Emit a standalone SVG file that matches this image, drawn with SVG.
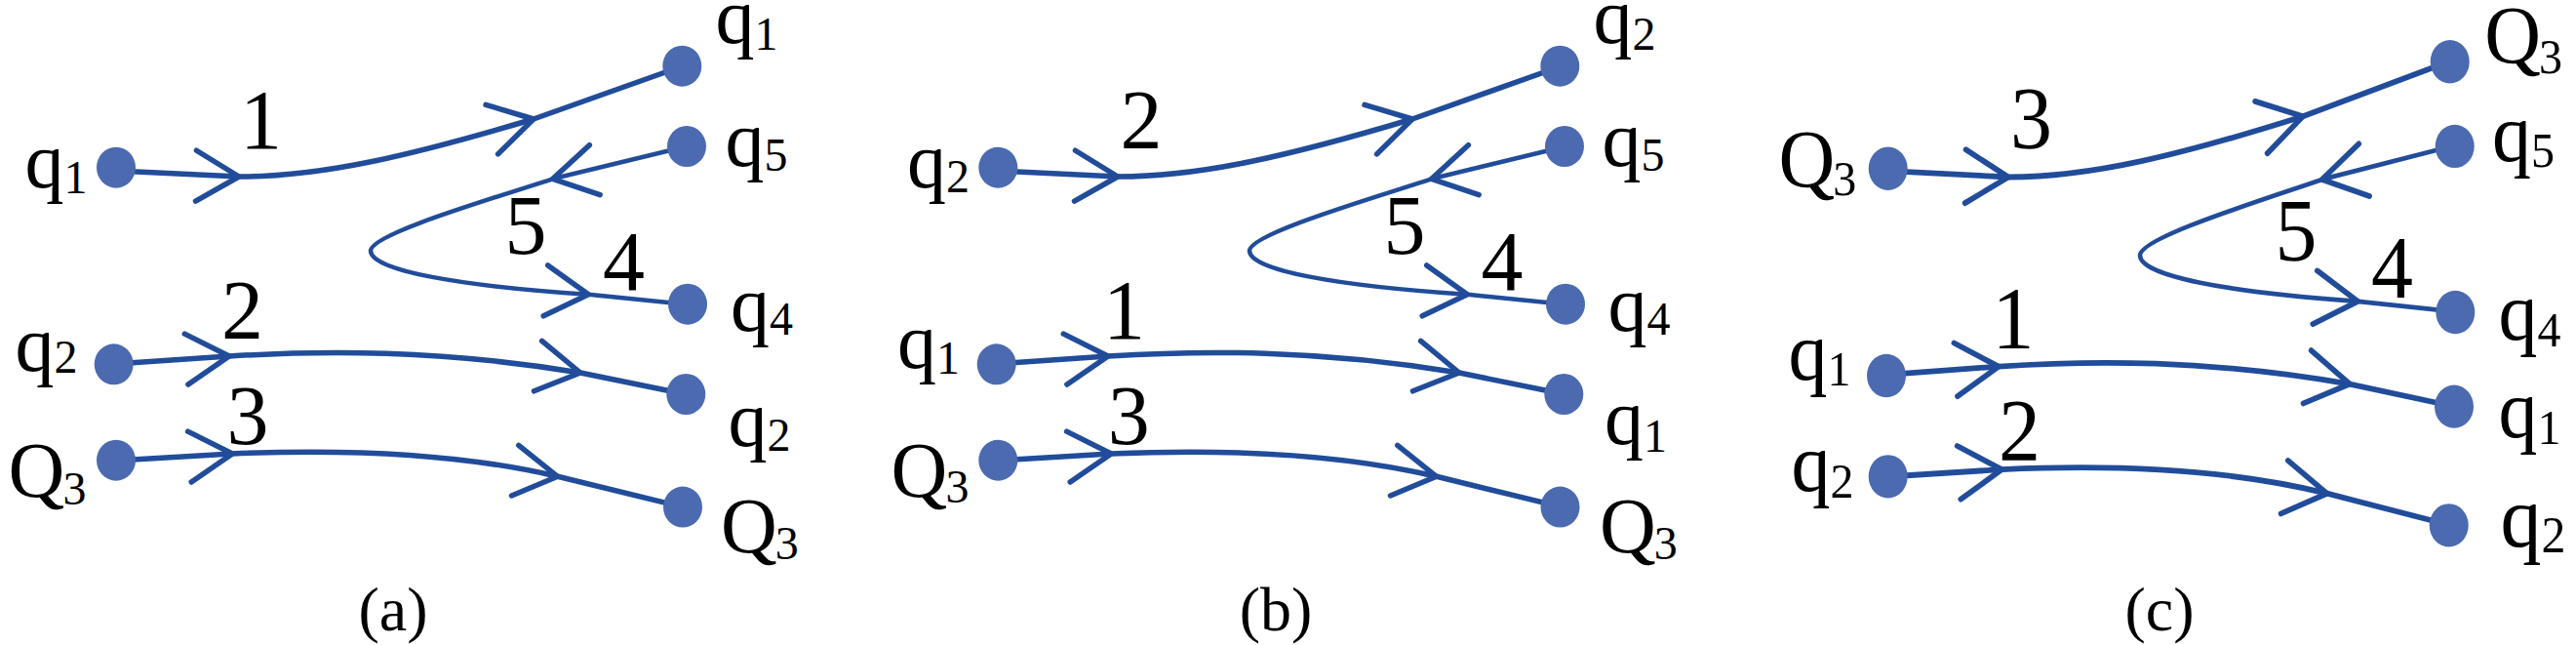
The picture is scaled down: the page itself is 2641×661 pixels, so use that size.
<svg xmlns="http://www.w3.org/2000/svg" xmlns:xlink="http://www.w3.org/1999/xlink" width="2641" height="661" viewBox="0 0 2641 661">
<style>
.dot{fill:#4B6AB0}
.lbl{font-family:"Liberation Serif","Times New Roman",serif;font-size:80px;fill:#000}
.sub{font-size:48px}
.num{font-family:"Liberation Serif","Times New Roman",serif;font-size:86px;fill:#000;text-anchor:middle}
.cap{font-family:"Liberation Serif","Times New Roman",serif;font-size:64px;fill:#000;text-anchor:middle}
</style>
<defs>
<path id="chev" d="M-44,-26 L0,0 L-44,26"/>
</defs>
<rect width="2641" height="661" fill="#fff"/>

<!-- ============ PANEL (a) ============ -->
<g id="panel-a">
  <g id="a-connectors" fill="none" stroke="#214C9A" stroke-width="5.5" stroke-linecap="round" stroke-linejoin="round">
    <path d="M119,175 L245,181 C330,181 420,160 547,122 L699,68"/>
    <path d="M704,150 L566.7,183.3 C500,205 380,240 380,257 C380,277 470,293 603.3,301.7 L705,312" stroke-width="4.5"/>
    <path d="M117,373 L235,365 C330,359 450,358 595,382 L703,404"/>
    <path d="M119,472 L238,465 C330,461 460,462 571.7,488.3 L700,519.6"/>
    <use xlink:href="#chev" transform="translate(245,181) rotate(1)"/>
    <use xlink:href="#chev" transform="translate(547,122) rotate(-14)"/>
    <use xlink:href="#chev" transform="translate(566.7,183.3) rotate(168)"/>
    <use xlink:href="#chev" transform="translate(603.3,301.7) rotate(5)"/>
    <use xlink:href="#chev" transform="translate(235,365) rotate(-4)"/>
    <use xlink:href="#chev" transform="translate(595,382) rotate(9)"/>
    <use xlink:href="#chev" transform="translate(238.3,465) rotate(-4)"/>
    <use xlink:href="#chev" transform="translate(571.7,488.3) rotate(8)"/>
  </g>
  <g id="a-edge-labels">
    <text class="num" x="267.5" y="152">1</text>
    <text class="num" x="248.5" y="347">2</text>
    <text class="num" x="254" y="455">3</text>
    <text class="num" x="539" y="260">5</text>
    <text class="num" x="639.5" y="296.7">4</text>
  </g>
  <g id="a-src-q1"><ellipse class="dot" cx="119" cy="171.7" rx="20" ry="21"/><text class="lbl" x="25.4" y="192">q<tspan class="sub" dy="6">1</tspan></text></g>
  <g id="a-src-q2"><ellipse class="dot" cx="116.7" cy="373.3" rx="20" ry="21"/><text class="lbl" x="15.4" y="380">q<tspan class="sub" dy="2">2</tspan></text></g>
  <g id="a-src-Q3"><ellipse class="dot" cx="119" cy="471.7" rx="20" ry="21"/><text class="lbl" x="8.6" y="509">Q<tspan class="sub" dx="-2" dy="8">3</tspan></text></g>
  <g id="a-dst-q1"><ellipse class="dot" cx="699.3" cy="67.7" rx="20" ry="21"/><text class="lbl" x="733.4" y="44">q<tspan class="sub" dy="7">1</tspan></text></g>
  <g id="a-dst-q5"><ellipse class="dot" cx="704" cy="150" rx="20" ry="21"/><text class="lbl" x="743.4" y="170">q<tspan class="sub" dy="5">5</tspan></text></g>
  <g id="a-dst-q4"><ellipse class="dot" cx="705" cy="311.7" rx="20" ry="21"/><text class="lbl" x="749" y="339">q<tspan class="sub" dy="4">4</tspan></text></g>
  <g id="a-dst-q2"><ellipse class="dot" cx="703.3" cy="404" rx="20" ry="21"/><text class="lbl" x="746.4" y="457">q<tspan class="sub" dy="5">2</tspan></text></g>
  <g id="a-dst-Q3"><ellipse class="dot" cx="700" cy="519.6" rx="20" ry="21"/><text class="lbl" x="739" y="566">Q<tspan class="sub" dx="-2" dy="7">3</tspan></text></g>
</g>
<text id="cap-a" class="cap" x="403" y="646">(a)</text>

<!-- ============ PANEL (b) ============ -->
<g id="panel-b" transform="translate(901,0)">
  <g id="b-connectors" fill="none" stroke="#214C9A" stroke-width="5.5" stroke-linecap="round" stroke-linejoin="round">
    <path d="M121,175 L245,181 C330,181 420,160 547,122 L699,68"/>
    <path d="M704,150 L566.7,183.3 C500,205 380,240 380,257 C380,277 470,293 603.3,301.7 L705,312" stroke-width="4.5"/>
    <path d="M119,373 L235,365 C330,359 450,358 595,382 L703,404"/>
    <path d="M121,472 L238,465 C330,461 460,462 571.7,488.3 L700,519.6"/>
    <use xlink:href="#chev" transform="translate(245,181) rotate(1)"/>
    <use xlink:href="#chev" transform="translate(547,122) rotate(-14)"/>
    <use xlink:href="#chev" transform="translate(566.7,183.3) rotate(168)"/>
    <use xlink:href="#chev" transform="translate(603.3,301.7) rotate(5)"/>
    <use xlink:href="#chev" transform="translate(235,365) rotate(-4)"/>
    <use xlink:href="#chev" transform="translate(595,382) rotate(9)"/>
    <use xlink:href="#chev" transform="translate(238.3,465) rotate(-4)"/>
    <use xlink:href="#chev" transform="translate(571.7,488.3) rotate(8)"/>
  </g>
  <g id="b-edge-labels">
    <text class="num" x="269" y="152">2</text>
    <text class="num" x="251.5" y="346.7">1</text>
    <text class="num" x="256.3" y="455">3</text>
    <text class="num" x="539" y="260">5</text>
    <text class="num" x="639" y="296.7">4</text>
  </g>
  <g id="b-src-q2"><ellipse class="dot" cx="122.3" cy="171.7" rx="20" ry="21"/><text class="lbl" x="29.1" y="191.7">q<tspan class="sub" dy="5">2</tspan></text></g>
  <g id="b-src-q1"><ellipse class="dot" cx="120.7" cy="373.3" rx="20" ry="21"/><text class="lbl" x="19.1" y="377">q<tspan class="sub" dy="6">1</tspan></text></g>
  <g id="b-src-Q3"><ellipse class="dot" cx="122.3" cy="471.7" rx="20" ry="21"/><text class="lbl" x="12.6" y="509">Q<tspan class="sub" dx="-2" dy="6">3</tspan></text></g>
  <g id="b-dst-q2"><ellipse class="dot" cx="698.3" cy="67.7" rx="20" ry="21"/><text class="lbl" x="732.4" y="44">q<tspan class="sub" dy="7">2</tspan></text></g>
  <g id="b-dst-q5"><ellipse class="dot" cx="703" cy="150" rx="20" ry="21"/><text class="lbl" x="741.5" y="170">q<tspan class="sub" dy="5">5</tspan></text></g>
  <g id="b-dst-q4"><ellipse class="dot" cx="704" cy="311.7" rx="20" ry="21"/><text class="lbl" x="747.4" y="339">q<tspan class="sub" dy="4">4</tspan></text></g>
  <g id="b-dst-q1"><ellipse class="dot" cx="702.3" cy="404" rx="20" ry="21"/><text class="lbl" x="744.1" y="455">q<tspan class="sub" dy="8">1</tspan></text></g>
  <g id="b-dst-Q3"><ellipse class="dot" cx="698.5" cy="519.6" rx="20" ry="21"/><text class="lbl" x="739" y="566">Q<tspan class="sub" dx="-2" dy="7">3</tspan></text></g>
</g>
<text id="cap-b" class="cap" x="1308" y="646">(b)</text>

<!-- ============ PANEL (c) ============ -->
<g id="panel-c" transform="matrix(1,0,0,1.055,1814,-9.46)">
  <g id="c-connectors" fill="none" stroke="#214C9A" stroke-width="5.5" stroke-linecap="round" stroke-linejoin="round">
    <path d="M121,175 L245,181 C330,181 420,160 547,122 L699,68"/>
    <path d="M704,150 L566.7,183.3 C500,205 380,240 380,257 C380,277 470,293 603.3,301.7 L705,312" stroke-width="4.5"/>
    <path d="M119,373 L235,365 C330,359 450,358 595,382 L703,404"/>
    <path d="M121,472 L238,465 C330,461 460,462 571.7,488.3 L700,519.6"/>
    <use xlink:href="#chev" transform="translate(245,181) rotate(1)"/>
    <use xlink:href="#chev" transform="translate(547,122) rotate(-14)"/>
    <use xlink:href="#chev" transform="translate(566.7,183.3) rotate(168)"/>
    <use xlink:href="#chev" transform="translate(603.3,301.7) rotate(5)"/>
    <use xlink:href="#chev" transform="translate(235,365) rotate(-4)"/>
    <use xlink:href="#chev" transform="translate(595,382) rotate(9)"/>
    <use xlink:href="#chev" transform="translate(238.3,465) rotate(-4)"/>
    <use xlink:href="#chev" transform="translate(571.7,488.3) rotate(8)"/>
  </g>
  <g id="c-edge-labels">
    <text class="num" x="268.5" y="152.7">3</text>
    <text class="num" x="250" y="347">1</text>
    <text class="num" x="256.5" y="456">2</text>
    <text class="num" x="540" y="261.7">5</text>
    <text class="num" x="638.5" y="298">4</text>
  </g>
  <g id="c-src-Q3"><ellipse class="dot" cx="121.7" cy="172.7" rx="20" ry="21"/><text class="lbl" x="9.6" y="190.7">Q<tspan class="sub" dx="-2" dy="8">3</tspan></text></g>
  <g id="c-src-q1"><ellipse class="dot" cx="120" cy="373.9" rx="20" ry="21"/><text class="lbl" x="19.4" y="377.7">q<tspan class="sub" dy="6">1</tspan></text></g>
  <g id="c-src-q2"><ellipse class="dot" cx="121.7" cy="471.8" rx="20" ry="21"/><text class="lbl" x="22.4" y="485.7">q<tspan class="sub" dy="7">2</tspan></text></g>
  <g id="c-dst-Q3"><ellipse class="dot" cx="697.7" cy="68.9" rx="20" ry="21"/><text class="lbl" x="733.3" y="71">Q<tspan class="sub" dx="-2" dy="9">3</tspan></text></g>
  <g id="c-dst-q5"><ellipse class="dot" cx="702.7" cy="151.1" rx="20" ry="21"/><text class="lbl" x="741.1" y="165.4">q<tspan class="sub" dy="6">5</tspan></text></g>
  <g id="c-dst-q4"><ellipse class="dot" cx="703.3" cy="312.3" rx="20" ry="21"/><text class="lbl" x="747.4" y="338.8">q<tspan class="sub" dy="7">4</tspan></text></g>
  <g id="c-dst-q1"><ellipse class="dot" cx="702" cy="403.9" rx="20" ry="21"/><text class="lbl" x="747.4" y="433.6">q<tspan class="sub" dy="7">1</tspan></text></g>
  <g id="c-dst-q2"><ellipse class="dot" cx="696.7" cy="519.2" rx="20" ry="21"/><text class="lbl" x="749.4" y="539.8" style="font-size:84px">q<tspan class="sub" dy="6" style="font-size:50px">2</tspan></text></g>
</g>
<text id="cap-c" class="cap" x="2214" y="646">(c)</text>
</svg>
